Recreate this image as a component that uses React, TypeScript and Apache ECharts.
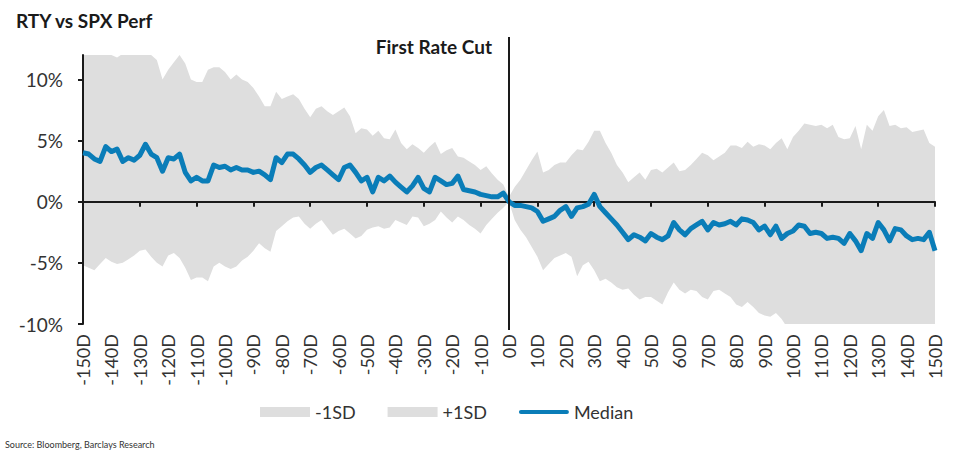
import React, { useEffect, useRef } from "react";
import * as echarts from "echarts";

// Values every 2 trading days from -150D to 150D
const median = [
  4.0, 3.9, 3.5, 3.3, 4.5, 4.1, 4.3, 3.3, 3.6, 3.4,
  3.8, 4.7, 3.9, 3.6, 2.5, 3.6, 3.5, 3.9, 2.4, 1.7,
  2.0, 1.7, 1.7, 3.0, 2.8, 2.9, 2.6, 2.8, 2.6, 2.6,
  2.4, 2.5, 2.2, 1.8, 3.6, 3.2, 3.9, 3.9, 3.5, 3.0,
  2.4, 2.8, 3.0, 2.6, 2.2, 1.8, 2.8, 3.0, 2.4, 1.7,
  2.0, 0.8, 2.0, 1.7, 2.1, 1.6, 1.2, 0.8, 1.3, 2.0,
  1.1, 0.8, 2.0, 1.7, 1.4, 1.5, 2.1, 1.0, 0.9, 0.8,
  0.6, 0.5, 0.4, 0.4, 0.7, 0.0, -0.3, -0.3, -0.4, -0.5,
  -0.8, -1.6, -1.4, -1.2, -0.7, -0.4, -1.2, -0.5, -0.4, -0.2,
  0.6, -0.4, -0.9, -1.4, -1.9, -2.5, -3.1, -2.7, -2.9, -3.2,
  -2.6, -2.9, -3.1, -2.8, -1.7, -2.3, -2.7, -2.2, -1.9, -1.6,
  -2.3, -1.7, -1.9, -1.8, -1.6, -1.9, -1.4, -1.5, -1.7, -2.3,
  -2.0, -2.7, -2.0, -3.0, -2.6, -2.4, -1.9, -2.0, -2.6, -2.5,
  -2.6, -3.0, -2.9, -3.0, -3.4, -2.6, -3.2, -4.0, -2.6, -3.0,
  -1.7, -2.3, -3.2, -2.2, -2.3, -2.8, -3.1, -3.0, -3.1, -2.5,
  -4.0,
];
const upper = [
  12.5, 12.5, 12.3, 12.4, 12.2, 12.0, 11.8, 12.1, 12.2, 12.0,
  12.3, 12.1, 12.0, 11.6, 10.0, 10.8, 11.4, 12.0, 11.3, 10.0,
  9.8, 9.8, 10.8, 11.0, 11.0, 10.6, 10.0, 10.4, 10.0, 9.8,
  9.3, 8.6, 7.8, 7.8, 9.0, 8.4, 8.6, 8.8, 8.4, 7.6,
  6.9, 7.6, 7.8, 7.4, 7.1, 7.4, 7.7, 7.0, 5.6, 6.0,
  5.9, 5.4, 5.8, 5.2, 5.1, 5.9, 4.8, 4.3, 4.7, 4.4,
  4.0, 4.5, 4.9, 3.9, 4.2, 4.4, 3.7, 3.6, 3.3, 3.0,
  2.6, 2.9, 2.3, 1.8, 1.4, 0.4, 1.2, 1.8, 2.6, 3.4,
  4.1, 2.4, 2.6, 3.0, 3.2, 3.2, 3.8, 4.3, 4.2, 4.9,
  5.8, 5.8, 4.8, 4.0, 3.0, 2.4, 1.6, 2.0, 2.4, 1.8,
  2.6, 2.7, 2.4, 2.8, 3.2, 2.5, 2.6, 3.0, 3.5, 4.0,
  3.8, 3.4, 3.7, 4.0, 4.6, 4.6, 4.4, 4.9, 4.5, 4.7,
  4.6, 4.3, 4.8, 5.2, 4.3, 5.3, 5.8, 6.4, 6.3, 6.2,
  6.3, 6.0, 6.3, 5.3, 5.1, 5.2, 6.2, 4.3, 6.3, 5.8,
  7.0, 7.5, 6.2, 6.3, 6.0, 6.1, 5.7, 5.8, 5.9, 4.8,
  4.5,
];
const lower = [
  -5.2, -5.4, -5.6, -5.1, -4.6, -4.9, -5.1, -5.0, -4.7, -4.4,
  -4.0, -3.9, -4.5, -5.0, -5.3, -4.4, -4.2, -4.6, -5.4, -6.4,
  -6.2, -6.2, -6.5, -5.3, -5.0, -5.3, -5.5, -5.3, -4.8, -4.5,
  -4.0, -3.4, -3.8, -4.1, -2.4, -2.0, -1.6, -1.3, -1.2, -1.8,
  -2.2, -1.8, -1.5, -2.1, -2.7, -2.4, -2.2, -2.6, -3.0, -2.8,
  -2.3, -2.1, -2.0, -2.2, -2.1, -1.5, -1.7, -1.9, -1.2, -1.3,
  -2.0, -1.8, -1.5, -0.8, -1.3, -1.7, -1.2, -1.5, -1.9, -2.2,
  -2.6, -1.9, -1.4, -0.9, -0.5, 0.0, -1.5, -2.3, -2.9, -3.7,
  -4.5, -5.6, -5.1, -4.6, -4.4, -4.2, -4.5, -6.1, -5.2, -4.9,
  -5.6, -6.5, -6.3, -6.6, -7.0, -7.2, -7.1, -7.6, -8.0, -7.8,
  -7.8, -8.1, -8.4, -7.4, -6.6, -7.2, -7.5, -7.2, -7.3, -7.8,
  -8.0, -7.3, -7.2, -7.5, -7.8, -8.4, -8.6, -8.2, -8.6, -9.1,
  -9.3, -9.4, -9.1, -9.6, -10.3, -10.6, -10.2, -10.8, -11.0, -10.9,
  -11.2, -11.4, -11.0, -11.3, -11.6, -11.2, -11.5, -11.8, -11.3, -11.6,
  -11.9, -12.0, -11.7, -11.8, -12.1, -11.9, -12.2, -12.0, -12.3, -12.5,
  -12.2,
];
const days = median.map((_, i) => -150 + i * 2);
const yTicks = [-10, -5, 0, 5, 10];

const GRAY = "#dedede";
const BLUE = "#0a7db8";
const FONT = "Lato";

export default function App() {
  const ref = useRef<HTMLDivElement>(null);
  useEffect(() => {
    if (!ref.current) return;
    const chart = echarts.init(ref.current, null, { renderer: "svg" });
    chart.setOption({
      animation: false,
      textStyle: { fontFamily: FONT },
      title: {
        text: "RTY vs SPX Perf",
        left: 11,
        top: 6,
        textStyle: { fontFamily: FONT, fontWeight: "bold", fontSize: 19, color: "#1a1a1a" },
      },
      grid: { left: 83, right: 25, top: 55, bottom: 130 },
      legend: {
        left: 255,
        top: 398,
        itemWidth: 50,
        itemHeight: 10,
        itemGap: 32,
        textStyle: { fontFamily: FONT, fontSize: 18, color: "#333" },
        data: [
          { name: "-1SD", icon: "rect", itemStyle: { color: GRAY } },
          { name: "+1SD", icon: "rect", itemStyle: { color: GRAY } },
          { name: "Median", icon: "path://M2,0L48,0A2,2,0,0,1,48,4L2,4A2,2,0,0,1,2,0Z", itemStyle: { color: BLUE } },
        ],
      },
      xAxis: [
        {
          type: "value",
          min: -150,
          max: 150,
          interval: 10,
          position: "bottom",
          axisLine: { show: false, onZero: false },
          axisTick: { show: false },
          splitLine: { show: false },
          axisLabel: {
            rotate: 90,
            margin: 10,
            fontFamily: FONT,
            fontSize: 18,
            color: "#333",
            formatter: (v: number) => `${v}D`,
          },
        },
        {
          type: "value",
          min: -150,
          max: 150,
          interval: 20,
          position: "bottom",
          z: 3,
          axisLine: { show: true, onZero: true, lineStyle: { color: "#1a1a1a", width: 2 } },
          axisTick: { show: true, length: 5, lineStyle: { color: "#1a1a1a", width: 2 } },
          axisLabel: { show: false },
          splitLine: { show: false },
        },
      ],
      yAxis: {
        type: "value",
        min: -10,
        max: 12,
        z: 3,
        axisLine: { show: true, onZero: false, lineStyle: { color: "#1a1a1a", width: 2 } },
        axisTick: { show: true, length: 5, customValues: yTicks, lineStyle: { color: "#1a1a1a", width: 2 } },
        splitLine: { show: false },
        axisLabel: {
          customValues: yTicks,
          margin: 20,
          fontFamily: FONT,
          fontSize: 19,
          color: "#333",
          formatter: (v: number) => `${v}%`,
        },
      },
      series: [
        {
          name: "-1SD",
          type: "line",
          data: days.map((d, i) => [d, lower[i]]),
          symbol: "none",
          lineStyle: { width: 0, opacity: 0 },
          itemStyle: { color: GRAY },
          areaStyle: { color: GRAY, opacity: 1 },
          z: 1,
        },
        {
          name: "+1SD",
          type: "line",
          data: days.map((d, i) => [d, upper[i]]),
          symbol: "none",
          lineStyle: { width: 0, opacity: 0 },
          itemStyle: { color: GRAY },
          areaStyle: { color: GRAY, opacity: 1 },
          z: 1,
        },
        {
          name: "Median",
          type: "line",
          data: days.map((d, i) => [d, median[i]]),
          symbol: "none",
          lineStyle: { width: 5, color: BLUE, join: "round" },
          itemStyle: { color: BLUE },
          z: 5,
        },
      ],
    });
    const x0 = chart.convertToPixel({ xAxisIndex: 0 }, 0) as number;
    chart.setOption({
      graphic: [
        {
          type: "line",
          shape: { x1: x0, y1: 37, x2: x0, y2: 330 },
          style: { stroke: "#1a1a1a", lineWidth: 2 },
          z: 10,
        },
        {
          type: "text",
          x: x0 - 17,
          y: 46,
          style: {
            text: "First Rate Cut",
            fontFamily: FONT,
            fontWeight: "bold",
            fontSize: 19,
            fill: "#1a1a1a",
            align: "right",
            verticalAlign: "middle",
          },
          z: 10,
        },
        {
          type: "text",
          x: 5,
          y: 444,
          style: {
            text: "Source: Bloomberg, Barclays Research",
            fontFamily: FONT,
            fontSize: 9,
            fill: "#333",
            verticalAlign: "middle",
          },
        },
      ],
    });
    return () => chart.dispose();
  }, []);
  return (
    <div
      ref={ref}
      style={{ position: "fixed", left: 0, top: 0, width: 960, height: 454, background: "#fff" }}
    />
  );
}
